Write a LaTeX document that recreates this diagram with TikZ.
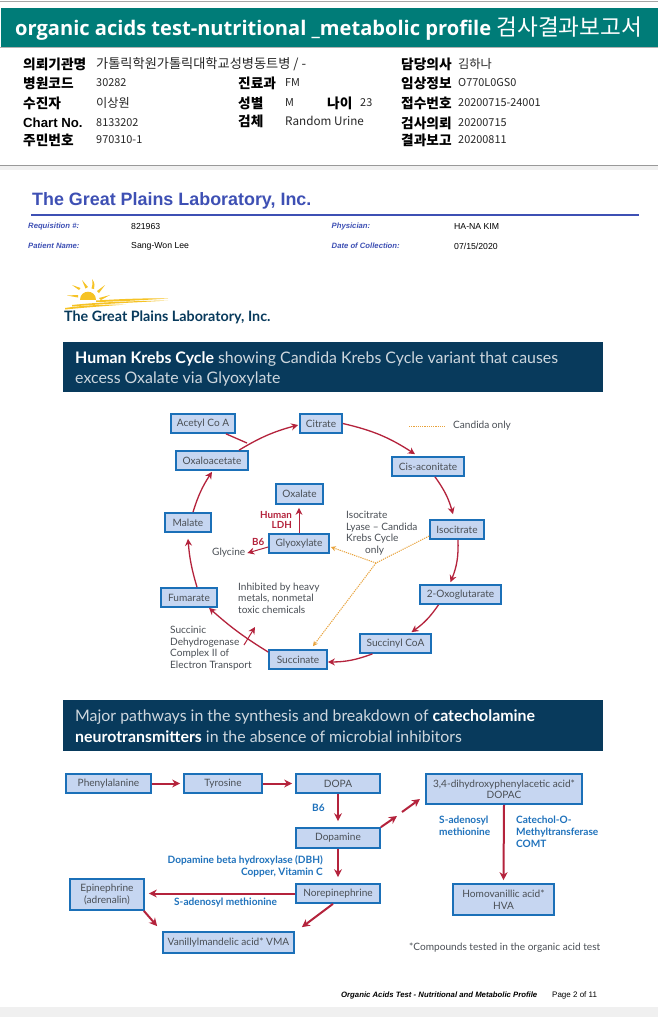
\documentclass[tikz,border=0pt]{standalone}
\usepackage{fontspec}
\setmainfont{Lato}
\newfontfamily\cjk{Noto Sans CJK KR}
\newfontfamily\ari{Liberation Sans}
\newfontfamily\ttl{Open Sans}
\usetikzlibrary{arrows.meta}
\definecolor{teal1}{HTML}{007C78}
\definecolor{navy}{HTML}{083A5C}
\definecolor{boxfill}{HTML}{C6D6F1}
\definecolor{boxline}{HTML}{1B70B8}
\definecolor{ared}{HTML}{B4233C}
\definecolor{lblue}{HTML}{1F72BC}
\definecolor{gtxt}{HTML}{4A4F55}
\definecolor{gplb}{HTML}{3E50B4}
\definecolor{dorange}{HTML}{E8A23A}
\definecolor{pagegray}{HTML}{F0F0F0}
\definecolor{sunc}{HTML}{F6C325}
\tikzset{
 x=1pt,y=-1pt,
 bx/.style={draw=boxline,line width=1.7pt,fill=boxfill,inner sep=0pt,align=center,text=gtxt,font=\fontsize{10.1}{11.5}\selectfont},
 flow/.style={draw=ared,line width=1.3pt,-{Stealth[length=7pt,width=7pt]}},
 flowb/.style={draw=ared,line width=2pt,-{Stealth[length=8pt,width=8pt]}},
 dotl/.style={draw=dorange,line width=1pt,dash pattern=on 1.2pt off 1pt},
 dota/.style={dotl,-{Stealth[length=5pt,width=5pt]}},
 t/.style={anchor=west,inner sep=0pt,text=gtxt,font=\fontsize{10.1}{11.5}\selectfont,align=left},
 blue/.style={t,text=lblue,font=\fontsize{10.1}{11.8}\bfseries\selectfont},
 redl/.style={t,text=ared,font=\fontsize{9.8}{10.7}\bfseries\selectfont},
 hk/.style={anchor=west,inner sep=0pt,text=black,font=\cjk\fontsize{13.7}{14}\bfseries\selectfont},
 hv/.style={anchor=west,inner sep=0pt,text=black!85,font=\cjk\fontsize{10.9}{14}\selectfont},
 hw/.style={hv,font=\cjk\fontsize{12.2}{14}\selectfont},
 pl/.style={anchor=west,inner sep=0pt,text=gplb,font=\ari\fontsize{7.7}{8}\bfseries\itshape\selectfont},
 pv/.style={anchor=west,inner sep=0pt,text=black,font=\ari\fontsize{8.7}{9}\selectfont},
 bn/.style={anchor=west,inner sep=0pt,text=white,font=\fontsize{15.9}{18}\selectfont},
}
\newcommand{\bxn}[6]{\node[bx,minimum width=#4-#2,minimum height=#5-#3] (#1) at ({(#2+#4)/2},{(#3+#5)/2}) {#6};}
\begin{document}
\begin{tikzpicture}
\useasboundingbox (0,0) rectangle (658,1017);
\fill[white] (0,0) rectangle (658,1017);
% frame bands
\fill[black!35] (0,1) rectangle (658,2.2);
\fill[teal1] (1,8) rectangle (658,47);
\fill[black!30] (0,47) rectangle (658,48);
\fill[pagegray] (0,165) rectangle (658,170);
\fill[black!40] (0,164.5) rectangle (658,165.7);
\fill[pagegray] (0,1007) rectangle (658,1017);
\node[anchor=west,inner sep=0pt,text=white,font=\ttl\fontsize{20.1}{24}\bfseries\selectfont] (title) at (15,29) {organic acids test-nutritional \_metabolic profile {\cjk\mdseries\fontsize{22.6}{24}\selectfont 검사결과보고서}};
% report rows
\node[hk] (k1) at (23,64) {의뢰기관명};
\node[hv,font=\cjk\fontsize{13.2}{14}\selectfont] (v1) at (96,64) {가톨릭학원가톨릭대학교성병동트병 / -};
\node[hk] (k2) at (23,83) {병원코드};
\node[hv] (v2) at (96,83) {30282};
\node[hk] (k3) at (23,103) {수진자};
\node[hw] (v3) at (96,103) {이상원};
\node[anchor=west,inner sep=0pt,font=\ari\fontsize{13.2}{14}\bfseries\selectfont] (k4) at (23,123) {Chart No.};
\node[hv] (v4) at (96,123) {8133202};
\node[hk] (k5) at (23,140) {주민번호};
\node[hv] (v5) at (96,140) {970310-1};
\node[hk] (m2) at (238,83) {진료과};
\node[hv] (mv2) at (285,83) {FM};
\node[hk] (m3) at (238,103) {성별};
\node[hv] (mv3) at (285,103) {M};
\node[hk] (m3b) at (327,103) {나이};
\node[hv] (mv3b) at (360,103) {23};
\node[hk] (m4) at (238,121) {검체};
\node[hv,font=\cjk\fontsize{11.7}{14}\selectfont] (mv4) at (285,121) {Random Urine};
\node[hk] (r1) at (401,64) {담당의사};
\node[hw] (rv1) at (458,64) {김하나};
\node[hk] (r2) at (401,83) {임상정보};
\node[hv] (rv2) at (458,83) {O770L0GS0};
\node[hk] (r3) at (401,103) {접수번호};
\node[hv] (rv3) at (458,103) {20200715-24001};
\node[hk] (r4) at (401,123) {검사의뢰};
\node[hv] (rv4) at (458,123) {20200715};
\node[hk] (r5) at (401,140) {결과보고};
\node[hv] (rv5) at (458,140) {20200811};
% lab header
\node[anchor=west,inner sep=0pt,text=gplb,font=\ari\fontsize{17.9}{20}\bfseries\selectfont] (lab) at (32,200.5) {The Great Plains Laboratory, Inc.};
\fill[gplb] (31,213.5) rectangle (639,216);
\node[pl] (a1) at (28,227) {Requisition \#:};
\node[pv] (a2) at (131,227) {821963};
\node[pl] (a3) at (331.5,227) {Physician:};
\node[pv] (a4) at (454,227) {HA-NA KIM};
\node[pl] (b1) at (28,246) {Patient Name:};
\node[pv] (b2) at (131,246) {Sang-Won Lee};
\node[pl] (b3) at (331.5,246) {Date of Collection:};
\node[pv] (b4) at (454,246) {07/15/2020};
% logo
\fill[sunc] (80,300) .. controls (80,288.5) and (96,288.5) .. (96,300) -- cycle;
\fill[sunc] (72,285) -- (80.5,288) -- (79,290) -- cycle;
\fill[sunc] (82,280) -- (88,287) -- (85.5,288.5) -- cycle;
\fill[sunc] (92,279) .. controls (95,283) and (95,286) .. (94,289) -- (91.5,288.5) .. controls (92.5,286) and (93,283) .. cycle;
\fill[sunc] (105,285) -- (99,293) -- (97,291) -- cycle;
\fill[sunc] (110,295) -- (101,300) -- (99,298) -- cycle;
\fill[sunc] (67,295.5) -- (78,295) -- (78,297.5) -- cycle;
\fill[sunc] (96,300.5) .. controls (120,299) and (145,298) .. (168,298.5) .. controls (145,300) and (120,301.5) .. (96,302) -- cycle;
\fill[sunc] (72,305) .. controls (100,302) and (135,301) .. (168,300.5) .. controls (135,302.5) and (100,304) .. (72,306.5) -- cycle;
\fill[sunc] (65,308) .. controls (85,305) and (105,304.5) .. (126,304.5) .. controls (105,306) and (85,307.5) .. (65,309.5) -- cycle;
\node[anchor=west,inner sep=0pt,text=navy,font=\fontsize{14.3}{16}\bfseries\selectfont] (logotxt) at (64,317) {The Great Plains Laboratory, Inc.};
% banner 1
\fill[navy] (63,342) rectangle (603,392);
\node[bn] (h1a) at (75,359) {\textbf{Human Krebs Cycle} {\color{white!80!navy}showing Candida Krebs Cycle variant that causes}};
\node[bn,text=white!80!navy] (h1b) at (75,379) {excess Oxalate via Glyoxylate};
% krebs nodes
\bxn{acetyl}{171}{414}{235}{433}{Acetyl Co A}
\bxn{citrate}{300}{414}{342}{433}{Citrate}
\bxn{cis}{392}{457}{464}{476}{Cis-aconitate}
\bxn{iso}{430}{520}{484}{539}{Isocitrate}
\bxn{oxo}{420}{585}{501}{604}{2-Oxoglutarate}
\bxn{succoa}{360}{634}{431}{653}{Succinyl CoA}
\bxn{succ}{269}{650}{327}{669}{Succinate}
\bxn{fum}{161}{588}{217}{607}{Fumarate}
\bxn{mal}{165}{513}{211}{532}{Malate}
\bxn{oxa}{176}{451}{248}{470}{Oxaloacetate}
\bxn{oxl}{276}{484}{323}{504}{Oxalate}
\bxn{gly}{269}{534}{329}{553}{Glyoxylate}
\coordinate (acetylend) at (247,443);
\coordinate (fork) at (376,563);
\coordinate (legA) at (409,426);
\coordinate (legB) at (445,426);
\node[t] (glycine) at (212,553) {Glycine};
\node[t] (legtxt) at (453,426) {Candida only};
\node[t] (lyase) at (346,533) {Isocitrate\\Lyase – Candida\\Krebs Cycle\\\hspace{19pt}only};
\node[t] (inh) at (238,598) {Inhibited by heavy\\metals, nonmetal\\toxic chemicals};
\node[t] (sdh) at (170,648) {Succinic\\Dehydrogenase\\Complex II of\\Electron Transport};
\node[redl,align=right,anchor=east] (ldh) at (292,520) {Human\\LDH};
\node[redl] (b6a) at (252,541.5) {B6};
\coordinate (inhA) at (244,645);
\coordinate (inhB) at (255,627);
% krebs arrows (yshift is in picture points: positive goes up)
\draw[flow] (citrate.east) to[bend left=10] ([xshift=-13pt,yshift=2pt]cis.north);
\draw[flow] ([xshift=7pt]cis.south) to[bend left=10] ([xshift=-4pt,yshift=5pt]iso.north);
\draw[flow] ([xshift=1pt]iso.south) to[bend left=12] ([xshift=-10pt,yshift=2pt]oxo.north);
\draw[flow] ([xshift=-22pt]oxo.south) to[bend left=10] ([xshift=16pt,yshift=1pt]succoa.north);
\draw[flow] ([xshift=-23pt]succoa.south) to[bend left=10] ([yshift=-2.5pt]succ.east);
\draw[flow] ([yshift=7.5pt]succ.west) to[bend left=5] ([xshift=20pt]fum.south);
\draw[flow] ([xshift=8pt]fum.north) to[bend left=6] ([yshift=-6pt]mal.south);
\draw[flow] ([xshift=5pt]mal.north) to[bend left=8] ([yshift=-1pt]oxa.south);
\draw[flow] ([xshift=27pt]oxa.north) to[bend left=8] ([xshift=-1pt,yshift=-1.5pt]citrate.west);
\draw[draw=ared,line width=1.3pt] ([xshift=23pt]acetyl.south) -- (acetylend);
\draw[flow,line width=1pt] (gly.north) -- ([yshift=-3pt]gly.north |- oxl.south);
\draw[flow,line width=1pt] ([yshift=-3.5pt]gly.west) -- ([xshift=2pt]glycine.east);
\draw[flow,line width=1pt] (inhA) -- (inhB);
\draw[dotl] ([yshift=-6.5pt]iso.west) -- (fork);
\draw[dota] (fork) -- ([xshift=1pt,yshift=-3.5pt]gly.east);
\draw[dota] (fork) -- ([xshift=15pt,yshift=3pt]succ.north);
\draw[dotl] (legA) -- (legB);
% banner 2
\fill[navy] (63,700) rectangle (603,751);
\node[bn,text=white!80!navy] (h2a) at (75,717) {Major pathways in the synthesis and breakdown of {\bfseries\color{white} catecholamine}};
\node[bn,text=white!80!navy] (h2b) at (75,737) {{\bfseries\color{white} neurotransmitters} in the absence of microbial inhibitors};
% catecholamine
\bxn{phe}{66}{774}{151}{793}{Phenylalanine}
\bxn{tyr}{184}{774}{262}{793}{Tyrosine}
\bxn{dopa}{296}{774}{380}{793}{DOPA}
\bxn{dopamine}{296}{828}{380}{848}{Dopamine}
\bxn{nor}{296}{884}{380}{903}{Norepinephrine}
\bxn{epi}{70}{879}{144}{910}{Epinephrine\\(adrenalin)}
\bxn{vma}{163}{932}{294}{953}{Vanillylmandelic acid* VMA}
\bxn{dopac}{426}{774}{582}{804}{3,4-dihydroxyphenylacetic acid*\\DOPAC}
\bxn{hva}{453}{884}{554}{915}{Homovanillic acid*\\HVA}
\coordinate (d1) at (397,816);
\coordinate (d2) at (402,812);
\coordinate (d3) at (420,799);
\draw[flowb] (phe) -- ([xshift=-3pt]tyr.west);
\draw[flowb] (tyr) -- ([xshift=-3pt]dopa.west);
\draw[flowb] (dopa) -- ([yshift=6pt]dopamine.north);
\draw[flowb] (dopamine) -- ([yshift=6pt]nor.north);
\draw[flowb] (nor) -- ([xshift=4pt]epi.east |- nor.west);
\draw[flowb] ([xshift=-1pt]epi.south east) -- ([xshift=-5pt,yshift=5pt]vma.north west);
\draw[flowb] ([xshift=-5pt]nor.south) -- ([xshift=7pt,yshift=4pt]vma.north east);
\draw[flowb] (dopamine.north east) -- (d1);
\draw[flowb] (d2) -- (d3);
\draw[flowb] (dopac.south) -- ([yshift=3pt]hva.north);
\node[blue] (b6b) at (312,808) {B6};
\node[blue,anchor=east,align=right] (dbh) at (323,866) {Dopamine beta hydroxylase (DBH)\\Copper, Vitamin C};
\node[blue] (sam) at (174,903) {S-adenosyl methionine};
\node[blue] (sam2) at (439,826) {S-adenosyl\\methionine};
\node[blue] (comt) at (516,832) {Catechol-O-\\Methyltransferase\\COMT};
\node[t] (note) at (409,948) {*Compounds tested in the organic acid test};
% footer
\node[anchor=west,inner sep=0pt,font=\ari\fontsize{7.75}{9}\bfseries\itshape\selectfont] (f1) at (341,995) {Organic Acids Test - Nutritional and Metabolic Profile};
\node[anchor=west,inner sep=0pt,font=\ari\fontsize{8}{9}\selectfont] (f2) at (552,995) {Page 2 of 11};
\end{tikzpicture}
\end{document}
